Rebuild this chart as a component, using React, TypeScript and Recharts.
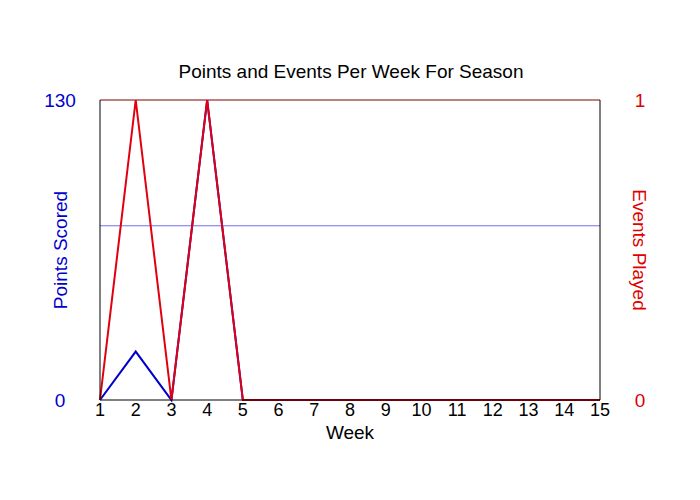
import React from "react";
import {
  Line,
  LineChart,
  ReferenceLine,
  XAxis,
  YAxis,
} from "recharts";

const weeks = [1, 2, 3, 4, 5, 6, 7, 8, 9, 10, 11, 12, 13, 14, 15];
const pointsScored = [0, 21, 0, 130, 0, 0, 0, 0, 0, 0, 0, 0, 0, 0, 0];
const eventsPlayed = [0, 1, 0, 1, 0, 0, 0, 0, 0, 0, 0, 0, 0, 0, 0];
const pointsTicks = [0, 130];
const eventsTicks = [0, 1];
const avgPointsPerEvent = 75.5;

const FONT = "'Liberation Sans', Arial, sans-serif";

const data = weeks.map((week, i) => ({
  week,
  points: pointsScored[i],
  events: eventsPlayed[i],
}));

export default function App() {
  return (
    <div
      style={{
        position: "absolute",
        left: 0,
        top: 0,
        width: 700,
        height: 500,
        background: "#fff",
        fontFamily: FONT,
      }}
    >
      <div
        style={{
          position: "absolute",
          top: 61,
          left: 0,
          width: 702,
          textAlign: "center",
          fontSize: 19,
          color: "#000",
        }}
      >
        Points and Events Per Week For Season
      </div>
      <LineChart
        width={700}
        height={500}
        data={data}
        margin={{ top: 100, right: 20, bottom: 60, left: 20 }}
      >
        <XAxis
          dataKey="week"
          type="number"
          domain={[1, 15]}
          ticks={weeks}
          interval={0}
          height={40}
          tickSize={0}
          tickMargin={3}
          axisLine={{ stroke: "#000", strokeWidth: 1 }}
          tick={{ fill: "#000", fontSize: 18, fontFamily: FONT }}
          label={{
            value: "Week",
            position: "center",
            dy: 12,
            fill: "#000",
            fontSize: 19,
            fontFamily: FONT,
          }}
        />
        <YAxis
          yAxisId="left"
          domain={[0, 130]}
          ticks={pointsTicks}
          width={80}
          tickSize={0}
          tickMargin={40}
          axisLine={{ stroke: "#000", strokeWidth: 1 }}
          tick={{
            fill: "#0000cc",
            fontSize: 19,
            fontFamily: FONT,
            textAnchor: "middle",
          }}
          label={{
            value: "Points Scored",
            angle: -90,
            position: "center",
            fill: "#0000cc",
            fontSize: 19,
            fontFamily: FONT,
          }}
        />
        <YAxis
          yAxisId="right"
          orientation="right"
          domain={[0, 1]}
          ticks={eventsTicks}
          width={80}
          tickSize={0}
          tickMargin={40}
          axisLine={{ stroke: "#000", strokeWidth: 1 }}
          tick={{
            fill: "#e00000",
            fontSize: 19,
            fontFamily: FONT,
            textAnchor: "middle",
          }}
          label={{
            value: "Events Played",
            angle: 90,
            position: "center",
            fill: "#e00000",
            fontSize: 19,
            fontFamily: FONT,
          }}
        />
        <ReferenceLine
          yAxisId="left"
          y={130}
          stroke="#800000"
          strokeWidth={1}
        />
        <ReferenceLine
          yAxisId="left"
          y={avgPointsPerEvent}
          stroke="#7070e8"
          strokeWidth={1}
        />
        <Line
          yAxisId="left"
          dataKey="points"
          stroke="#0000cc"
          strokeWidth={2}
          dot={false}
          activeDot={false}
          isAnimationActive={false}
        />
        <Line
          yAxisId="right"
          dataKey="events"
          stroke="#e00010"
          strokeWidth={2}
          dot={false}
          activeDot={false}
          isAnimationActive={false}
        />
      </LineChart>
    </div>
  );
}
